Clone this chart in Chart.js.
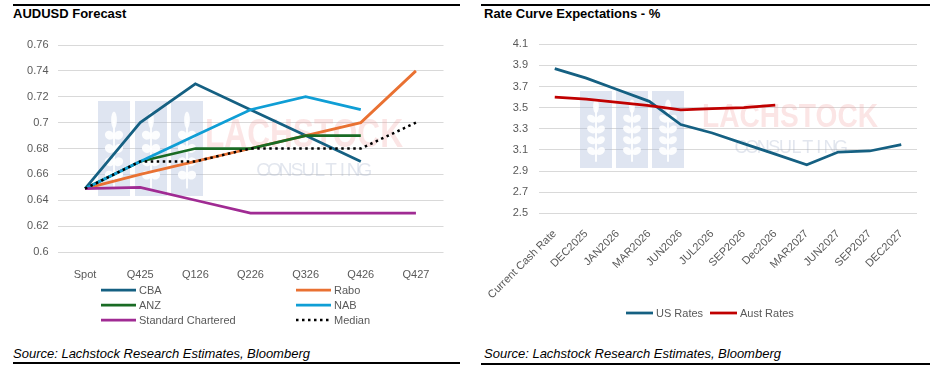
<!DOCTYPE html>
<html lang="en">
<head>
<meta charset="UTF-8">
<title>AUDUSD Forecast / Rate Curve Expectations</title>
<script src="https://cdn.jsdelivr.net/npm/chart.js"></script>
<style>
  body { margin: 0; background: #fff; font-family: "Liberation Sans", Arial, sans-serif; }
  canvas { position: absolute; top: 0; }
  #fxChart { left: 0; }
  #rateChart { left: 470px; }
  .rule { position: absolute; height: 2px; background: #000; }
  .title { position: absolute; top: 6px; font-weight: bold; font-size: 13px; color: #000; }
  .source { position: absolute; top: 346px; font-style: italic; font-size: 13px; color: #000; }
</style>
</head>
<body>
<div class="rule" style="left:13px;top:4px;width:447px"></div>
<div class="rule" style="left:481px;top:4px;width:449px"></div>
<div class="title" style="left:13px">AUDUSD Forecast</div>
<div class="title" style="left:484px">Rate Curve Expectations - %</div>

<canvas id="fxChart" width="470" height="340"></canvas>
<canvas id="rateChart" width="465" height="340"></canvas>

<div class="source" style="left:13px">Source: Lachstock Research Estimates, Bloomberg</div>
<div class="source" style="left:484px">Source: Lachstock Research Estimates, Bloomberg</div>
<div class="rule" style="left:13px;top:362px;width:447px"></div>
<div class="rule" style="left:481px;top:363px;width:449px"></div>

<script>
// ---- AUDUSD forecast data ----
const fxLabels = ['Spot', 'Q425', 'Q126', 'Q226', 'Q326', 'Q426', 'Q427'];
const cba      = [0.649, 0.70, 0.73, 0.71, 0.69, 0.67, null];
const rabo     = [0.649, 0.66, 0.67, 0.68, 0.69, 0.70, 0.74];
const anz      = [0.649, 0.67, 0.68, 0.68, 0.69, 0.69, null];
const nab      = [0.649, 0.67, 0.69, 0.71, 0.72, 0.71, null];
const stanChart = [0.649, 0.65, 0.64, 0.63, 0.63, 0.63, 0.63];
const median   = [0.649, 0.67, 0.67, 0.68, 0.68, 0.68, 0.70];

// ---- rate curve data ----
const rateLabels = ['Current Cash Rate', 'DEC2025', 'JAN2026', 'MAR2026', 'JUN2026', 'JUL2026',
                    'SEP2026', 'Dec2026', 'MAR2027', 'JUN2027', 'SEP2027', 'DEC2027'];
const usRates   = [3.87, 3.78, 3.67, 3.56, 3.34, 3.26, 3.16, 3.06, 2.96, 3.08, 3.09, 3.15];
const austRates = [3.60, 3.58, 3.55, 3.52, 3.48, 3.49, 3.50, 3.525, null, null, null, null];

Chart.defaults.font.family = '"Liberation Sans", Arial, sans-serif';
Chart.defaults.font.size = 11;
Chart.defaults.color = '#595959';

// legend laid out in fixed slots (Excel style columns)
const slotLegend = {
  id: 'slotLegend',
  afterDraw(chart, args, opts) {
    const ctx = chart.ctx;
    chart.data.datasets.forEach((ds, i) => {
      const p = opts.slots[i];
      ctx.save();
      ctx.strokeStyle = ds.borderColor;
      ctx.lineWidth = ds.borderWidth;
      ctx.setLineDash(ds.borderDash || []);
      ctx.beginPath();
      ctx.moveTo(p[0], p[1]);
      ctx.lineTo(p[0] + opts.lineLen, p[1]);
      ctx.stroke();
      ctx.setLineDash([]);
      ctx.fillStyle = '#595959';
      ctx.font = '11px "Liberation Sans", Arial, sans-serif';
      ctx.textBaseline = 'middle';
      ctx.fillText(ds.label, p[0] + opts.lineLen + 3, p[1] + 0.5);
      ctx.restore();
    });
  }
};

// faint company watermark behind the lines
const watermark = {
  id: 'watermark',
  beforeDatasetsDraw(chart, args, o) {
    const ctx = chart.ctx;
    ctx.save();
    o.boxes.forEach(b => {
      const [x, y, w, h] = b;
      ctx.fillStyle = 'rgba(170,186,218,0.38)';
      ctx.fillRect(x, y, w, h);
      // wheat ear
      const cx = x + w / 2;
      ctx.fillStyle = 'rgba(255,255,255,0.9)';
      ctx.strokeStyle = 'rgba(255,255,255,0.9)';
      ctx.lineWidth = 2;
      ctx.beginPath();
      ctx.moveTo(cx, y + h * 0.2);
      ctx.lineTo(cx, y + h * 0.92);
      ctx.stroke();
      ctx.beginPath();
      ctx.ellipse(cx, y + h * 0.2, w * 0.09, h * 0.09, 0, 0, Math.PI * 2);
      ctx.fill();
      for (let k = 0; k < 4; k++) {
        const ly = y + h * (0.36 + k * 0.14);
        [-1, 1].forEach(s => {
          ctx.beginPath();
          ctx.ellipse(cx + s * w * 0.14, ly, w * 0.15, h * 0.045, s * -0.6, 0, Math.PI * 2);
          ctx.fill();
        });
      }
    });
    ctx.textBaseline = 'middle';
    ctx.fillStyle = 'rgba(240,150,150,0.25)';
    ctx.font = 'bold ' + o.word.size + 'px "Liberation Sans", Arial, sans-serif';
    ctx.fillText('LACHSTOCK', o.word.x, o.word.y, o.word.w);
    ctx.fillStyle = 'rgba(160,172,200,0.3)';
    ctx.font = o.sub.size + 'px "Liberation Sans", Arial, sans-serif';
    ctx.textAlign = 'center';
    const letters = 'CONSULTING'.split('');
    const step = o.sub.w / (letters.length - 1);
    letters.forEach((c, i) => ctx.fillText(c, o.sub.x + i * step, o.sub.y));
    ctx.restore();
  }
};

const gridColor = '#d9d9d9';

new Chart(document.getElementById('fxChart'), {
  type: 'line',
  data: {
    labels: fxLabels,
    datasets: [
      { label: 'CBA', data: cba, borderColor: '#156082', borderWidth: 2.75, order: 6 },
      { label: 'Rabo', data: rabo, borderColor: '#E97132', borderWidth: 2.75, order: 5 },
      { label: 'ANZ', data: anz, borderColor: '#196B24', borderWidth: 2.75, order: 4 },
      { label: 'NAB', data: nab, borderColor: '#0F9ED5', borderWidth: 2.75, order: 3 },
      { label: 'Standard Chartered', data: stanChart, borderColor: '#A02B93', borderWidth: 2.75, order: 2 },
      { label: 'Median', data: median, borderColor: '#000000', borderWidth: 2.5, borderDash: [2.5, 3.5], order: 1 }
    ]
  },
  options: {
    responsive: false,
    animation: false,
    elements: { point: { radius: 0 }, line: { tension: 0 } },
    layout: { padding: { top: 45, right: 26.5, left: 0, bottom: 0 } },
    plugins: {
      legend: { display: false },
      tooltip: { enabled: false },
      slotLegend: {
        lineLen: 35,
        slots: [[101, 290], [296, 290], [101, 305], [296, 305], [101, 320], [296, 320]]
      },
      watermark: {
        boxes: [[98, 101, 32, 95], [135, 101, 32, 95], [171, 101, 32, 95]],
        word: { x: 205, y: 136, w: 198, size: 40 },
        sub: { x: 263, y: 171, w: 102, size: 19 }
      }
    },
    scales: {
      x: {
        offset: true,
        grid: { display: false },
        border: { display: false },
        ticks: { padding: 8, color: '#595959' },
        afterFit(s) { s.height = 88; }
      },
      y: {
        min: 0.6, max: 0.76,
        grid: { color: gridColor, drawTicks: false },
        border: { display: false },
        ticks: {
          stepSize: 0.02, padding: 9, color: '#595959',
          callback: v => String(Number(v.toFixed(2)))
        },
        afterFit(s) { s.width = 57.5; }
      }
    }
  },
  plugins: [slotLegend, watermark]
});

new Chart(document.getElementById('rateChart'), {
  type: 'line',
  data: {
    labels: rateLabels,
    datasets: [
      { label: 'US Rates', data: usRates, borderColor: '#156082', borderWidth: 2.75, order: 2 },
      { label: 'Aust Rates', data: austRates, borderColor: '#C00000', borderWidth: 2.75, order: 1 }
    ]
  },
  options: {
    responsive: false,
    animation: false,
    elements: { point: { radius: 0 }, line: { tension: 0 } },
    layout: { padding: { top: 44.3, right: 18, left: 0, bottom: 0 } },
    plugins: {
      legend: { display: false },
      tooltip: { enabled: false },
      slotLegend: {
        lineLen: 27,
        slots: [[156, 313], [240, 313]]
      },
      watermark: {
        boxes: [[110, 91, 32, 77], [146, 91, 32, 77], [182, 91, 32, 77]],
        word: { x: 232, y: 118, w: 176, size: 34 },
        sub: { x: 271, y: 148, w: 100, size: 18 }
      }
    },
    scales: {
      x: {
        offset: true,
        grid: { display: false },
        border: { display: false },
        ticks: { padding: 6, color: '#595959', autoSkip: false, maxRotation: 45, minRotation: 45 },
        afterFit(s) { s.height = 126.7; }
      },
      y: {
        min: 2.5, max: 4.1,
        grid: { color: gridColor, drawTicks: false },
        border: { display: false },
        ticks: {
          stepSize: 0.2, padding: 11, color: '#595959',
          callback: v => v.toFixed(1)
        },
        afterFit(s) { s.width = 69; }
      }
    }
  },
  plugins: [slotLegend, watermark]
});
</script>
</body>
</html>
